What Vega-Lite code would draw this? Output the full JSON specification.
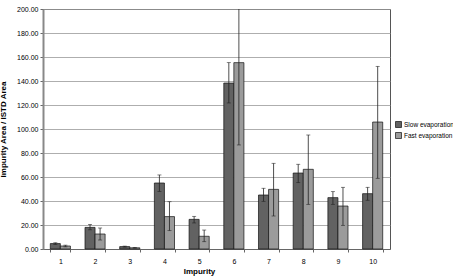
{
  "$schema": "https://vega.github.io/schema/vega-lite/v6.json",
  "autosize": {"type": "none"},
  "padding": {"left": 43, "top": 9, "right": 63, "bottom": 27},
  "width": 347,
  "height": 240,
  "background": "white",
  "config": {
    "font": "Liberation Sans",
    "view": {"stroke": "#555", "strokeWidth": 1},
    "axisY": {"labelOverlap": false}
  },
  "data": {
    "values": [
      {"impurity": "1", "condition": "Slow evaporation", "value": 4.5, "lo": 3.8, "hi": 5.2},
      {"impurity": "1", "condition": "Fast evaporation", "value": 2.5, "lo": 1.8, "hi": 3.2},
      {"impurity": "2", "condition": "Slow evaporation", "value": 18.0, "lo": 16.0, "hi": 20.5},
      {"impurity": "2", "condition": "Fast evaporation", "value": 12.5, "lo": 7.5, "hi": 17.5},
      {"impurity": "3", "condition": "Slow evaporation", "value": 2.0, "lo": 1.6, "hi": 2.4},
      {"impurity": "3", "condition": "Fast evaporation", "value": 1.0, "lo": 0.7, "hi": 1.3},
      {"impurity": "4", "condition": "Slow evaporation", "value": 55.0, "lo": 48.0, "hi": 61.7},
      {"impurity": "4", "condition": "Fast evaporation", "value": 27.0, "lo": 15.3, "hi": 39.4},
      {"impurity": "5", "condition": "Slow evaporation", "value": 24.7, "lo": 21.7, "hi": 27.2},
      {"impurity": "5", "condition": "Fast evaporation", "value": 10.6, "lo": 6.1, "hi": 15.8},
      {"impurity": "6", "condition": "Slow evaporation", "value": 138.3, "lo": 121.7, "hi": 155.3},
      {"impurity": "6", "condition": "Fast evaporation", "value": 155.3, "lo": 86.7, "hi": 224.0},
      {"impurity": "7", "condition": "Slow evaporation", "value": 45.0, "lo": 39.7, "hi": 50.6},
      {"impurity": "7", "condition": "Fast evaporation", "value": 49.7, "lo": 27.5, "hi": 71.4},
      {"impurity": "8", "condition": "Slow evaporation", "value": 63.3, "lo": 55.3, "hi": 70.6},
      {"impurity": "8", "condition": "Fast evaporation", "value": 66.4, "lo": 37.2, "hi": 95.0},
      {"impurity": "9", "condition": "Slow evaporation", "value": 42.8, "lo": 37.2, "hi": 47.8},
      {"impurity": "9", "condition": "Fast evaporation", "value": 35.8, "lo": 19.7, "hi": 51.4},
      {"impurity": "10", "condition": "Slow evaporation", "value": 46.1, "lo": 40.6, "hi": 51.4},
      {"impurity": "10", "condition": "Fast evaporation", "value": 105.8, "lo": 58.9, "hi": 152.2}
    ]
  },
  "encoding": {
    "x": {
      "field": "impurity",
      "type": "nominal",
      "sort": ["1","2","3","4","5","6","7","8","9","10"],
      "scale": {"paddingInner": 0.42, "paddingOuter": 0.21},
      "axis": {
        "title": "Impurity",
        "titleFontSize": 8,
        "titleFontWeight": "bold",
        "titleColor": "#000",
        "titleX": 156,
        "titlePadding": 3,
        "labelAngle": 0,
        "labelFontSize": 7,
        "labelColor": "#000",
        "labelPadding": 5,
        "labelDx": -3,
        "tickBand": "extent",
        "tickSize": 3,
        "tickColor": "#666",
        "domainColor": "#666",
        "grid": false
      }
    },
    "xOffset": {
      "field": "condition",
      "type": "nominal",
      "sort": ["Slow evaporation", "Fast evaporation"],
      "scale": {"paddingInner": 0, "paddingOuter": 0}
    }
  },
  "layer": [
    {
      "mark": {"type": "bar", "stroke": "#111", "strokeWidth": 0.7},
      "encoding": {
        "y": {
          "field": "value",
          "type": "quantitative",
          "scale": {"domain": [0, 200], "nice": false},
          "axis": {
            "title": "Impurity Area / ISTD Area",
            "titleFontSize": 8,
            "titleFontWeight": "bold",
            "titleColor": "#000",
            "titleX": -36,
            "values": [0,20,40,60,80,100,120,140,160,180,200],
            "format": ".2f",
            "labelOverlap": false,
            "labelFontSize": 7,
            "labelColor": "#000",
            "labelPadding": 2,
            "tickSize": 3,
            "tickColor": "#666",
            "domainColor": "#888",
            "domainWidth": 2,
            "gridColor": "#999",
            "gridWidth": 0.8
          }
        },
        "fill": {
          "field": "condition",
          "type": "nominal",
          "sort": ["Slow evaporation", "Fast evaporation"],
          "scale": {"range": ["#626262", "#9b9b9b"]},
          "legend": {
            "title": null,
            "orient": "none",
            "legendX": 352,
            "legendY": 112,
            "symbolType": "square",
            "symbolSize": 36,
            "symbolStrokeColor": "#111",
            "symbolStrokeWidth": 0.7,
            "labelFontSize": 6.5,
            "labelColor": "#000",
            "labelOffset": 2,
            "rowPadding": 2
          }
        }
      }
    },
    {
      "mark": {"type": "rule", "color": "#222", "strokeWidth": 0.8, "clip": true},
      "encoding": {
        "y": {
          "field": "lo",
          "type": "quantitative",
          "axis": {
            "title": "Impurity Area / ISTD Area",
            "titleFontSize": 8,
            "titleFontWeight": "bold",
            "titleColor": "#000",
            "titleX": -36,
            "values": [0,20,40,60,80,100,120,140,160,180,200],
            "format": ".2f",
            "labelOverlap": false,
            "labelFontSize": 7,
            "labelColor": "#000",
            "labelPadding": 2,
            "tickSize": 3,
            "tickColor": "#666",
            "domainColor": "#888",
            "domainWidth": 2,
            "gridColor": "#999",
            "gridWidth": 0.8
          }
        },
        "y2": {"field": "hi"}
      }
    },
    {
      "mark": {"type": "tick", "color": "#222", "thickness": 0.8, "size": 4, "orient": "horizontal", "clip": true},
      "encoding": {
        "y": {
          "field": "lo",
          "type": "quantitative",
          "axis": {
            "title": "Impurity Area / ISTD Area",
            "titleFontSize": 8,
            "titleFontWeight": "bold",
            "titleColor": "#000",
            "titleX": -36,
            "values": [0,20,40,60,80,100,120,140,160,180,200],
            "format": ".2f",
            "labelOverlap": false,
            "labelFontSize": 7,
            "labelColor": "#000",
            "labelPadding": 2,
            "tickSize": 3,
            "tickColor": "#666",
            "domainColor": "#888",
            "domainWidth": 2,
            "gridColor": "#999",
            "gridWidth": 0.8
          }
        }
      }
    },
    {
      "mark": {"type": "tick", "color": "#222", "thickness": 0.8, "size": 4, "orient": "horizontal", "clip": true},
      "encoding": {
        "y": {
          "field": "hi",
          "type": "quantitative",
          "axis": {
            "title": "Impurity Area / ISTD Area",
            "titleFontSize": 8,
            "titleFontWeight": "bold",
            "titleColor": "#000",
            "titleX": -36,
            "values": [0,20,40,60,80,100,120,140,160,180,200],
            "format": ".2f",
            "labelOverlap": false,
            "labelFontSize": 7,
            "labelColor": "#000",
            "labelPadding": 2,
            "tickSize": 3,
            "tickColor": "#666",
            "domainColor": "#888",
            "domainWidth": 2,
            "gridColor": "#999",
            "gridWidth": 0.8
          }
        }
      }
    }
  ]
}
